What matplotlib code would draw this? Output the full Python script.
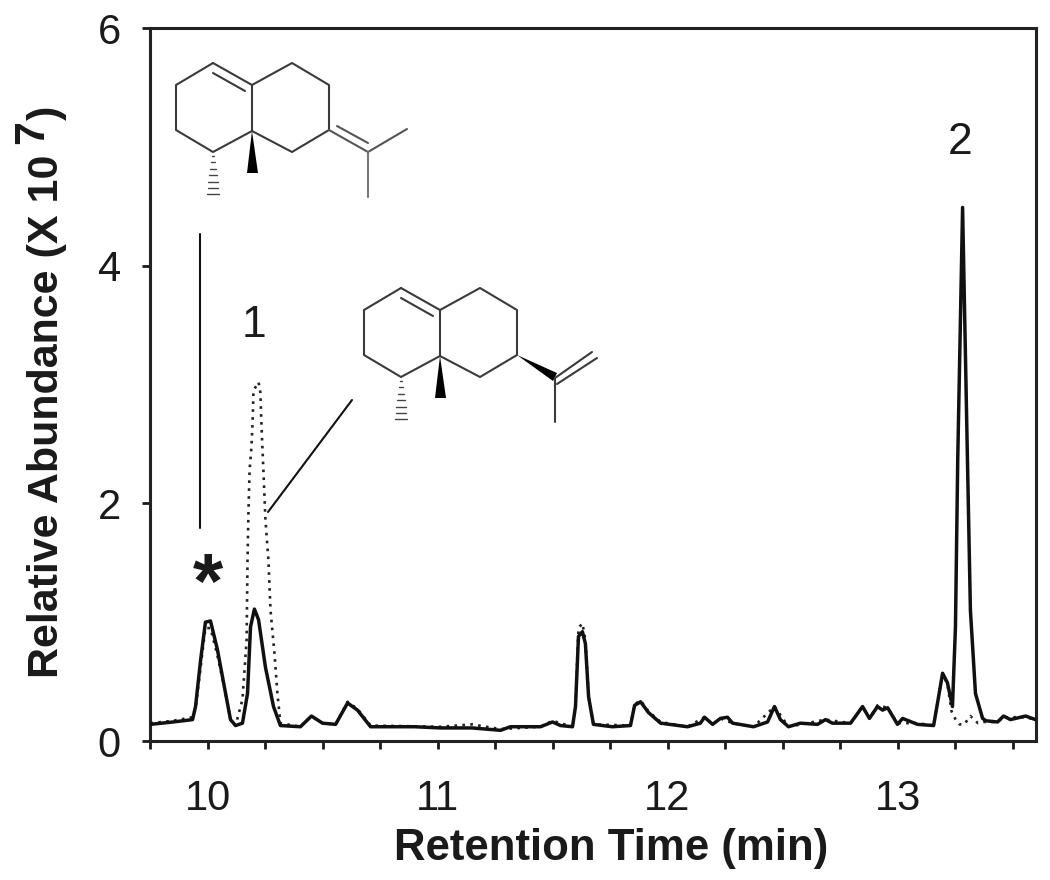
import matplotlib
matplotlib.use("Agg")
import matplotlib.pyplot as plt
from matplotlib.lines import Line2D
from matplotlib.patches import Polygon

plt.rcParams['font.family'] = ['Liberation Sans', 'DejaVu Sans']

solid_time = [9.752, 9.80, 9.85, 9.935, 9.948, 9.970, 9.991, 10.013, 10.043, 10.070, 10.100, 10.122, 10.152, 10.174,
              10.187, 10.204, 10.222, 10.252, 10.287, 10.317, 10.404, 10.452, 10.500, 10.557, 10.609,
              10.652, 10.709, 10.80, 10.90, 11.013, 11.15, 11.274, 11.317, 11.448, 11.500, 11.535, 11.587, 11.600, 11.613,
              11.630, 11.643, 11.657, 11.678, 11.76, 11.839, 11.857, 11.883, 11.917, 11.970, 12.087, 12.143,
              12.161, 12.196, 12.230, 12.261, 12.283, 12.374, 12.435, 12.465, 12.491, 12.526, 12.578,
              12.652, 12.687, 12.717, 12.796, 12.848, 12.878, 12.913, 12.935, 12.957, 13.000, 13.022,
              13.087, 13.157, 13.174, 13.196, 13.217, 13.239, 13.252, 13.262, 13.283, 13.304, 13.317,
              13.339, 13.370, 13.385, 13.435, 13.461, 13.491, 13.557, 13.600]
solid_abundance = [0.14, 0.15, 0.16, 0.18, 0.29, 0.68, 1.00, 1.01, 0.77, 0.49, 0.18, 0.13, 0.15, 0.40,
                   0.96, 1.11, 1.02, 0.62, 0.29, 0.13, 0.12, 0.21, 0.15, 0.14, 0.32,
                   0.26, 0.12, 0.12, 0.12, 0.11, 0.11, 0.09, 0.12, 0.12, 0.16, 0.13, 0.12, 0.29, 0.88,
                   0.92, 0.82, 0.37, 0.14, 0.12, 0.13, 0.30, 0.33, 0.24, 0.15, 0.12, 0.15,
                   0.20, 0.14, 0.19, 0.20, 0.15, 0.12, 0.16, 0.29, 0.18, 0.12, 0.15,
                   0.14, 0.18, 0.15, 0.15, 0.29, 0.19, 0.29, 0.26, 0.28, 0.14, 0.19,
                   0.14, 0.13, 0.32, 0.57, 0.49, 0.29, 0.96, 2.38, 4.49, 2.38, 1.10,
                   0.40, 0.19, 0.17, 0.16, 0.21, 0.18, 0.21, 0.18]

dotted_time = [9.752, 9.85, 9.935, 9.95, 9.97, 9.991, 10.013, 10.043, 10.07, 10.1, 10.122, 10.152, 10.17,
               10.174, 10.178, 10.183, 10.191, 10.196, 10.2, 10.222, 10.23, 10.235, 10.243, 10.252, 10.265,
               10.274, 10.291, 10.304, 10.317,
               10.404, 10.452, 10.5, 10.557, 10.609, 10.652, 10.709, 11.013, 11.15, 11.274, 11.448, 11.5,
               11.587, 11.6, 11.613, 11.63, 11.643, 11.657, 11.678, 11.839, 11.857, 11.883, 11.917,
               11.97, 12.087, 12.161, 12.196, 12.23, 12.283, 12.374, 12.465, 12.526, 12.687, 12.796, 12.848,
               12.878, 12.913, 12.957, 13.0, 13.087, 13.157, 13.174, 13.196, 13.217, 13.235, 13.25,
               13.27, 13.29, 13.317, 13.35, 13.374, 13.435, 13.461, 13.557, 13.6]
dotted_abundance = [0.15, 0.17, 0.20, 0.30, 0.62, 0.95, 0.95, 0.72, 0.48, 0.18, 0.13, 0.35, 0.85,
                    1.52, 1.92, 2.28, 2.47, 2.68, 2.95, 3.02, 2.93, 2.64, 2.28, 1.86, 1.52,
                    1.10, 0.74, 0.40, 0.15,
                    0.12, 0.21, 0.15, 0.14, 0.33, 0.27, 0.13, 0.12, 0.14, 0.10, 0.12, 0.17,
                    0.12, 0.30, 0.95, 0.99, 0.85, 0.38, 0.14, 0.13, 0.31, 0.34, 0.25,
                    0.16, 0.12, 0.20, 0.14, 0.19, 0.15, 0.12, 0.29, 0.12, 0.18, 0.15, 0.29,
                    0.19, 0.30, 0.28, 0.15, 0.15, 0.13, 0.32, 0.57, 0.48, 0.25, 0.19,
                    0.14, 0.14, 0.21, 0.15, 0.16, 0.16, 0.20, 0.20, 0.18]

x_major = [10, 11, 12, 13]
x_minor = [9.75, 10.25, 10.5, 10.75, 11.25, 11.5, 11.75, 12.25, 12.5, 12.75, 13.25, 13.5]
y_major = [0, 2, 4, 6]

W, H = 1050, 880
INK = '#1a1a1a'
fig = plt.figure(figsize=(W / 100, H / 100), dpi=100)
ax = fig.add_axes([150 / W, 1 - 741 / H, (1036 - 150) / W, (741 - 28) / H])

ax.plot(dotted_time, dotted_abundance, color='#222222', lw=1.9, ls=(0, (1, 2.0)), zorder=2)
ax.plot(solid_time, solid_abundance, color='#111111', lw=2.5, zorder=3, solid_joinstyle='round')
ax.set_xlim(9.75, 9.75 + (1036 - 150) / 230)
ax.set_ylim(0, 6)
ax.set_xticks(x_major)
ax.set_xticks(x_minor, minor=True)
ax.set_yticks(y_major)
ax.tick_params(axis='both', which='major', labelsize=30, length=6, width=2, colors=INK)
ax.tick_params(axis='x', which='minor', length=6, width=2, color=INK)
ax.tick_params(axis='x', which='major', pad=21)
ax.tick_params(axis='y', which='major', pad=15)
for s in ax.spines.values():
    s.set_linewidth(2.2)
    s.set_color('#222222')


def P(x, y):
    return x / W, 1 - y / H


def label(x, y, s, size, weight='bold', rotation=0):
    fx, fy = P(x, y)
    fig.text(fx, fy, s, fontsize=size, fontweight=weight, rotation=rotation, rotation_mode='anchor',
             ha='left', va='baseline', color=INK)


label(394, 860, 'Retention Time (min)', 31.5)
label(58, 678, 'Relative Abundance (X 10', 31, rotation=90)
label(43, 144, '7', 31, rotation=90)
label(58, 120, ')', 31, rotation=90)
fig.text(*P(254, 325), '1', fontsize=32, ha='center', va='center', color=INK)
fig.text(*P(960, 142), '2', fontsize=32, ha='center', va='center', color=INK)
fig.text(*P(208, 587), '*', fontsize=56, fontweight='bold', ha='center', va='center', color=INK)


def bond(pts, color='#3a3a3a', lw=1.5):
    xs, ys = zip(*[P(*p) for p in pts])
    fig.add_artist(Line2D(xs, ys, transform=fig.transFigure, color=color, lw=lw, solid_capstyle='round'))


def wedge(tip, a, b):
    fig.add_artist(Polygon([P(*tip), P(*a), P(*b)], closed=True, transform=fig.transFigure,
                           facecolor='black', edgecolor='none'))


def hash_bond(x, y0, y1, n=7):
    for i in range(n):
        y = y0 + (y1 - y0) * (i + 0.6) / n
        hw = 0.6 + 5.5 * (i + 1) / n
        bond([(x - hw, y), (x + hw, y)], color='#444444', lw=1.0)


def decalin(dx, dy):
    ring = [(213, 63), (252, 85), (252, 131), (213, 152), (176, 130), (176, 85), (213, 63)]
    bond([(x + dx, y + dy) for x, y in ring])
    second = [(252, 85), (292, 63), (329, 85), (329, 130), (292, 152), (252, 131)]
    bond([(x + dx, y + dy) for x, y in second])
    bond([(213 + dx, 73 + dy), (245 + dx, 91 + dy)])
    wedge((252 + dx, 131 + dy), (247 + dx, 173 + dy), (258 + dx, 173 + dy))
    hash_bond(213 + dx, 152 + dy, 197 + dy)


# upper structure
decalin(0, 0)
bond([(329, 130), (368, 152), (407, 129)], color='#555555')
bond([(337, 126), (368, 143)], color='#555555')
bond([(368, 152), (368, 197)], color='#777777')

# lower structure
decalin(188, 225)
wedge((517, 355), (553, 381), (557, 373))
bond([(555, 378), (592, 352)])
bond([(557, 384), (597, 358)])
bond([(555, 378), (555, 422)])

# leader lines
bond([(200, 234), (200, 528)], color='#111111', lw=1.5)
bond([(352, 400), (268, 512)], color='#111111', lw=1.5)

fig.savefig('out.png', dpi=100)
